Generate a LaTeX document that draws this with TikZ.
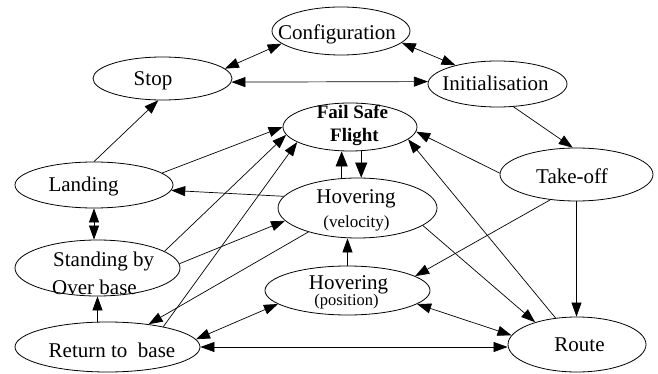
\documentclass[tikz,border=0pt]{standalone}
\usepackage{fontspec}
\setmainfont{Liberation Serif}
\usetikzlibrary{shapes.geometric,arrows.meta}
\begin{document}
\begin{tikzpicture}[x=1pt,y=-1pt,
  ell/.style={draw,ellipse,inner sep=0pt,line width=0.8pt},
  txt/.style={inner sep=0pt,anchor=base,font=\fontsize{21}{24}\selectfont},
  stxt/.style={inner sep=0pt,anchor=base,font=\fontsize{17}{20}\selectfont},
  btxt/.style={inner sep=0pt,anchor=base,font=\fontsize{19}{22}\selectfont\bfseries},
  conn/.style={line width=0.7pt,>={Triangle[length=14pt,width=10pt]}},
  bigconn/.style={line width=0.7pt,>={Triangle[length=15pt,width=12pt]}}]
\useasboundingbox (0,0) rectangle (658,374);
% ellipses
\node[ell,minimum width=138pt,minimum height=48pt] (Conf) at (341,31) {};
\node[ell,minimum width=139pt,minimum height=43pt] (Stop) at (162.5,78.5) {};
\node[ell,minimum width=139pt,minimum height=46pt] (Init) at (497.5,84) {};
\node[ell,minimum width=134pt,minimum height=48pt] (FSF) at (350,127) {};
\node[ell,minimum width=153pt,minimum height=53pt] (TO) at (576.5,174.5) {};
\node[ell,minimum width=158pt,minimum height=46pt] (Land) at (94,185) {};
\node[ell,minimum width=159pt,minimum height=60pt] (HV) at (357.5,208) {};
\node[ell,minimum width=165pt,minimum height=56pt] (SB) at (97.5,268) {};
\node[ell,minimum width=165pt,minimum height=49pt] (HP) at (347.5,290.5) {};
\node[ell,minimum width=185pt,minimum height=50pt] (RB) at (107.5,347) {};
\node[ell,minimum width=138pt,minimum height=55pt] (Route) at (577,344.5) {};
% texts
\node[txt] (tConf) at (337,40) {Configuration};
\node[txt] (tStop) at (153,86) {Stop};
\node[txt] (tInit) at (495.5,91) {Initialisation};
\node[btxt] (tFSF1) at (352.5,119) {Fail Safe};
\node[btxt] (tFSF2) at (354.5,142) {Flight};
\node[txt] (tTO) at (572,184) {Take-off};
\node[txt] (tLand) at (83.5,192) {Landing};
\node[txt] (tHV1) at (356,204) {Hovering};
\node[stxt] (tHV2) at (356.5,227) {(velocity)};
\node[txt,anchor=base west] (tSB1) at (53,266) {Standing by};
\node[txt,anchor=base west] (tSB2) at (52,294) {Over base};
\node[txt] (tHP) at (348.5,289) {Hovering\makebox[0pt][r]{\makebox[79.3pt][c]{\raisebox{-16pt}{\fontsize{16.5}{19}\selectfont(position)}\hspace{4pt}}}};
\node[txt] (tRB) at (112,357) {Return to\ \ base};
\node[txt] (tRoute) at (579.5,351) {Route};
% connectors
\draw[conn,<->] (Stop.9) -- (Conf.192);
\draw[conn,<->] (Stop.-3) -- (Init.178);
\draw[conn,<->] (Conf.-11) -- (Init.156);
\draw[conn,->] (Init.-55) -- (TO.98);
\draw[conn,->] (Land.90) -- (Stop.-101);
\draw[conn,->] (Land.10) -- (FSF.180);
\draw[conn,->] (SB.14) -- (FSF.187);
\draw[conn,->] (RB.20) -- (FSF.196);
\draw[conn,->] (TO.179) -- (FSF.-4);
\draw[conn,->] (Route.129) -- (FSF.-12);
\draw[bigconn,->] (HV.118) -- (HV.118 |- FSF.south);
\draw[bigconn,->] (FSF.-65) -- (FSF.-65 |- HV.north);
\draw[conn,->] (HV.171) -- (Land.-4);
\draw[conn,->] (SB.3) -- (HV.190);
\draw[conn,->] (HV.206) -- (RB.29);
\draw[conn,->] (HV.-15) -- (Route.152);
\draw[conn,->] (TO.224) -- (HP.12);
\draw[conn,->] (TO.south) -- (TO.south |- Route.north);
\draw[conn,->] (HP.north) -- (HP.north |- HV.south);
\draw[conn,<->] (HP.191) -- (RB.5);
\draw[conn,<->] (HP.-11) -- (Route.172);
\draw[conn,<->] (RB.east) -- (RB.east -| Route.west);
\draw[conn,<->] (Land.south) -- (Land.south |- SB.north);
\draw[conn,->] (SB.south |- RB.north) -- (SB.south);
\end{tikzpicture}
\end{document}
